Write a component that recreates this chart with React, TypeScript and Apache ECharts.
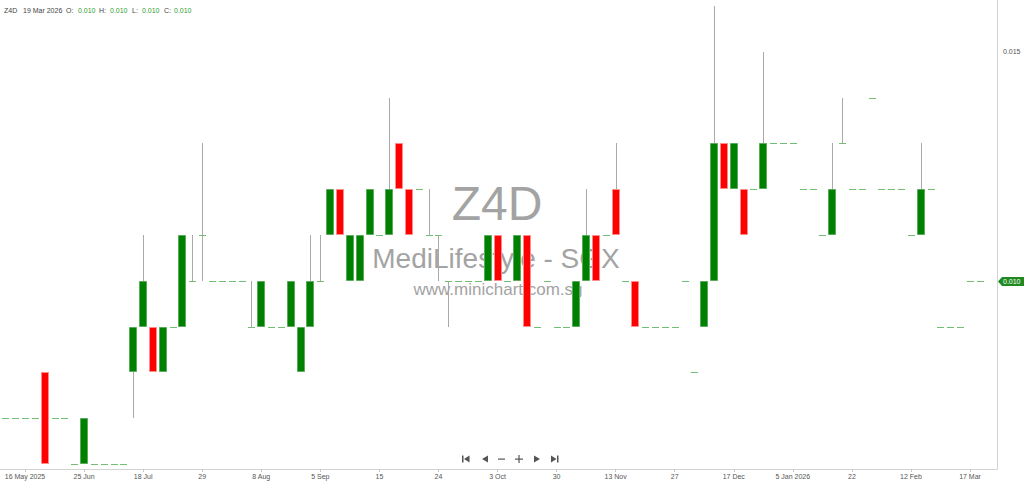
import { useEffect, useRef } from 'react';
import * as echarts from 'echarts';

const symbol = 'Z4D';
const company = 'MediLifestyle - SGX';
const site = 'www.minichart.com.sg';
const lastDate = '19 Mar 2026';

const opens = [
  0.007, 0.007, 0.007, 0.007, 0.008, 0.007, 0.007, 0.006, 0.006, 0.006,
  0.006, 0.006, 0.006, 0.008, 0.009, 0.009, 0.008, 0.009, 0.009, 0.010,
  0.011, 0.010, 0.010, 0.010, 0.010, 0.009, 0.009, 0.009, 0.009, 0.009,
  0.008, 0.009, 0.010, 0.011, 0.012, 0.010, 0.010, 0.011, 0.011, 0.011,
  0.013, 0.012, 0.012, 0.011, 0.011, 0.010, 0.010, 0.010, 0.010, 0.010,
  0.011, 0.010, 0.010, 0.011, 0.009, 0.010, 0.009, 0.009, 0.009, 0.010,
  0.011, 0.011, 0.012, 0.010, 0.010, 0.009, 0.009, 0.009, 0.009, 0.010,
  0.008, 0.009, 0.010, 0.013, 0.012, 0.012, 0.012, 0.012, 0.013, 0.013,
  0.013, 0.012, 0.012, 0.011, 0.011, 0.013, 0.012, 0.012, 0.014, 0.012,
  0.012, 0.012, 0.011, 0.011, 0.012, 0.009, 0.009, 0.009, 0.010, 0.010,
];
const highs = [
  0.007, 0.007, 0.007, 0.007, 0.008, 0.007, 0.007, 0.006, 0.007, 0.006,
  0.006, 0.006, 0.006, 0.009, 0.011, 0.009, 0.009, 0.009, 0.011, 0.011,
  0.013, 0.010, 0.010, 0.010, 0.010, 0.010, 0.010, 0.009, 0.009, 0.010,
  0.009, 0.011, 0.011, 0.012, 0.012, 0.011, 0.011, 0.012, 0.011, 0.014,
  0.013, 0.012, 0.012, 0.012, 0.011, 0.010, 0.010, 0.010, 0.010, 0.011,
  0.011, 0.010, 0.011, 0.011, 0.009, 0.010, 0.009, 0.009, 0.010, 0.012,
  0.011, 0.011, 0.013, 0.010, 0.010, 0.009, 0.009, 0.009, 0.009, 0.010,
  0.008, 0.010, 0.016, 0.013, 0.013, 0.012, 0.012, 0.015, 0.013, 0.013,
  0.013, 0.012, 0.012, 0.011, 0.013, 0.014, 0.012, 0.012, 0.014, 0.012,
  0.012, 0.012, 0.011, 0.013, 0.012, 0.009, 0.009, 0.009, 0.010, 0.010,
];
const lows = [
  0.007, 0.007, 0.007, 0.007, 0.006, 0.007, 0.007, 0.006, 0.006, 0.006,
  0.006, 0.006, 0.006, 0.007, 0.009, 0.008, 0.008, 0.009, 0.009, 0.010,
  0.010, 0.010, 0.010, 0.010, 0.010, 0.009, 0.009, 0.009, 0.009, 0.009,
  0.008, 0.009, 0.010, 0.011, 0.011, 0.010, 0.010, 0.011, 0.011, 0.011,
  0.012, 0.011, 0.012, 0.011, 0.010, 0.009, 0.010, 0.010, 0.010, 0.010,
  0.010, 0.010, 0.010, 0.009, 0.009, 0.010, 0.009, 0.009, 0.009, 0.010,
  0.010, 0.011, 0.011, 0.010, 0.009, 0.009, 0.009, 0.009, 0.009, 0.010,
  0.008, 0.009, 0.010, 0.012, 0.012, 0.011, 0.012, 0.012, 0.013, 0.013,
  0.013, 0.012, 0.012, 0.011, 0.011, 0.013, 0.012, 0.012, 0.014, 0.012,
  0.012, 0.012, 0.011, 0.011, 0.012, 0.009, 0.009, 0.009, 0.010, 0.010,
];
const closes = [
  0.007, 0.007, 0.007, 0.007, 0.006, 0.007, 0.007, 0.006, 0.007, 0.006,
  0.006, 0.006, 0.006, 0.009, 0.010, 0.008, 0.009, 0.009, 0.011, 0.010,
  0.011, 0.010, 0.010, 0.010, 0.010, 0.009, 0.010, 0.009, 0.009, 0.010,
  0.009, 0.010, 0.010, 0.012, 0.011, 0.011, 0.011, 0.012, 0.011, 0.012,
  0.012, 0.011, 0.012, 0.011, 0.011, 0.010, 0.010, 0.010, 0.010, 0.011,
  0.010, 0.010, 0.011, 0.009, 0.009, 0.010, 0.009, 0.009, 0.010, 0.011,
  0.010, 0.011, 0.011, 0.010, 0.009, 0.009, 0.009, 0.009, 0.009, 0.010,
  0.008, 0.010, 0.013, 0.012, 0.013, 0.011, 0.012, 0.013, 0.013, 0.013,
  0.013, 0.012, 0.012, 0.011, 0.012, 0.013, 0.012, 0.012, 0.014, 0.012,
  0.012, 0.012, 0.011, 0.012, 0.012, 0.009, 0.009, 0.009, 0.010, 0.010,
];

const xTickIndex = [2, 8, 14, 20, 26, 32, 38, 44, 50, 56, 62, 68, 74, 80, 86, 92, 98];
const xTickLabels = [
  '16 May 2025', '25 Jun', '18 Jul', '29', '8 Aug', '5 Sep', '15', '24', '3 Oct',
  '30', '13 Nov', '27', '17 Dec', '5 Jan 2026', '22', '12 Feb', '17 Mar',
];
const yLabelValues = [0.015];

const FONT = '"Liberation Sans", Arial, sans-serif';
const UP = '#008000';
const DOWN = '#ff0000';
const UP_EDGE = '#5cab5c';
const DOWN_EDGE = '#ff8a8a';
const WICK = '#a9a9a9';
const FLAT = '#72be72';
const VAL_GREEN = '#2f9b2f';

export default function App() {
  const ref = useRef<HTMLDivElement>(null);

  useEffect(() => {
    const chart = echarts.init(ref.current!, null, { renderer: 'svg' });
    const data = opens.map((o, i) => [i, o, closes[i], lows[i], highs[i]]);
    const last = data.length - 1;

    const renderCandle = (params: any, api: any) => {
      const i = api.value(0);
      const o = api.value(1);
      const c = api.value(2);
      const l = api.value(3);
      const h = api.value(4);
      const slot = api.size([1, 0])[0];
      const pO = api.coord([i, o]);
      const pC = api.coord([i, c]);
      const pL = api.coord([i, l]);
      const pH = api.coord([i, h]);
      const cx = Math.round(pO[0]);
      const yO = Math.round(pO[1]);
      const yC = Math.round(pC[1]);
      const top = Math.min(yO, yC);
      const bot = Math.max(yO, yC);
      const yH = Math.round(pH[1]);
      const yL = Math.round(pL[1]);
      const children: any[] = [];
      if (yH < top) {
        children.push({
          type: 'rect',
          shape: { x: cx, y: yH, width: 1, height: top - yH },
          style: { fill: WICK },
        });
      }
      if (yL > bot) {
        children.push({
          type: 'rect',
          shape: { x: cx, y: bot, width: 1, height: yL - bot },
          style: { fill: WICK },
        });
      }
      if (o === c) {
        const hw = Math.floor(slot * 0.34);
        children.push({
          type: 'rect',
          shape: { x: cx - hw, y: yO, width: hw * 2 + 1, height: 1 },
          style: { fill: FLAT },
        });
      } else {
        const bw = Math.round(slot * 0.8);
        const up = c > o;
        children.push({
          type: 'rect',
          shape: { x: cx - bw / 2 + 0.5, y: top + 0.5, width: bw - 1, height: bot - top - 1 },
          style: { fill: up ? UP : DOWN, stroke: up ? UP_EDGE : DOWN_EDGE, lineWidth: 1 },
        });
      }
      return { type: 'group', children };
    };

    const renderTag = (params: any, api: any) => {
      const v = api.value(1);
      const p = api.coord([api.value(0), v]);
      const x = params.coordSys.x + params.coordSys.width;
      const y = Math.round(p[1]) + 0.5;
      return {
        type: 'group',
        children: [
          {
            type: 'polygon',
            shape: {
              points: [
                [x + 1, y],
                [x + 5, y - 4.5],
                [x + 27, y - 4.5],
                [x + 27, y + 4.5],
                [x + 5, y + 4.5],
              ],
            },
            style: { fill: '#1f8a1f' },
          },
          {
            type: 'text',
            x: x + 6,
            y: y,
            style: {
              text: v.toFixed(3),
              fill: '#ffffff',
              font: `7px ${FONT}`,
              textAlign: 'left',
              textVerticalAlign: 'middle',
            },
          },
        ],
      };
    };

    const headerItems: [string, number, string][] = [
      [symbol, 4, '#444'],
      [lastDate, 23, '#444'],
      ['O:', 66, '#444'],
      [opens[last].toFixed(3), 78, VAL_GREEN],
      ['H:', 99, '#444'],
      [highs[last].toFixed(3), 110, VAL_GREEN],
      ['L:', 132, '#444'],
      [lows[last].toFixed(3), 142, VAL_GREEN],
      ['C:', 164, '#444'],
      [closes[last].toFixed(3), 174, VAL_GREEN],
    ];

    const NAV = '#555';
    const option: any = {
      animation: false,
      grid: { left: 0, right: 27, top: 0, bottom: 15 },
      xAxis: {
        type: 'value',
        min: -0.538,
        max: 100.74,
        splitLine: { show: false },
        axisLine: { show: true, onZero: false, lineStyle: { color: '#d3d3d3', width: 1 } },
        axisTick: {
          show: true,
          customValues: xTickIndex,
          length: 3,
          lineStyle: { color: '#c8c8c8' },
        },
        axisLabel: {
          customValues: xTickIndex,
          formatter: (v: number) => {
            const k = xTickIndex.indexOf(Math.round(v));
            return k >= 0 ? xTickLabels[k] : '';
          },
          fontSize: 7,
          fontFamily: FONT,
          color: '#555',
          margin: 4,
        },
      },
      yAxis: {
        type: 'value',
        position: 'right',
        min: 0.005889,
        max: 0.016129,
        splitLine: { show: false },
        axisLine: { show: true, onZero: false, lineStyle: { color: '#d3d3d3', width: 1 } },
        axisTick: { show: false },
        axisLabel: {
          customValues: yLabelValues,
          formatter: (v: number) => v.toFixed(3),
          fontSize: 7,
          fontFamily: FONT,
          color: '#555',
          margin: 6,
        },
      },
      graphic: [
        {
          type: 'text',
          x: 497,
          y: 203,
          z: 0,
          silent: true,
          style: {
            text: symbol,
            fill: '#a3a3a3',
            font: `48px ${FONT}`,
            textAlign: 'center',
            textVerticalAlign: 'middle',
          },
        },
        {
          type: 'text',
          x: 496,
          y: 258,
          z: 0,
          silent: true,
          style: {
            text: company,
            fill: '#a3a3a3',
            font: `28px ${FONT}`,
            textAlign: 'center',
            textVerticalAlign: 'middle',
          },
        },
        {
          type: 'text',
          x: 498,
          y: 289,
          z: 0,
          silent: true,
          style: {
            text: site,
            fill: '#a3a3a3',
            font: `17px ${FONT}`,
            textAlign: 'center',
            textVerticalAlign: 'middle',
          },
        },
        ...headerItems.map(([t, x, col]) => ({
          type: 'text',
          x,
          y: 10,
          style: {
            text: t,
            fill: col,
            font: `7px ${FONT}`,
            textAlign: 'left',
            textVerticalAlign: 'middle',
          },
        })),
        { type: 'rect', shape: { x: 462, y: 455.5, width: 1.5, height: 7 }, style: { fill: NAV } },
        { type: 'polygon', shape: { points: [[469.5, 455.5], [469.5, 462.5], [464, 459]] }, style: { fill: NAV } },
        { type: 'polygon', shape: { points: [[488, 455.5], [488, 462.5], [482, 459]] }, style: { fill: NAV } },
        { type: 'rect', shape: { x: 498, y: 458.5, width: 7, height: 1.2 }, style: { fill: NAV } },
        { type: 'rect', shape: { x: 515, y: 458.5, width: 8, height: 1.2 }, style: { fill: NAV } },
        { type: 'rect', shape: { x: 518.4, y: 455, width: 1.2, height: 8 }, style: { fill: NAV } },
        { type: 'polygon', shape: { points: [[534, 455.5], [534, 462.5], [540, 459]] }, style: { fill: NAV } },
        { type: 'polygon', shape: { points: [[551, 455.5], [551, 462.5], [556.5, 459]] }, style: { fill: NAV } },
        { type: 'rect', shape: { x: 557, y: 455.5, width: 1.5, height: 7 }, style: { fill: NAV } },
      ],
      series: [
        {
          type: 'custom',
          z: 5,
          renderItem: renderCandle,
          encode: { x: 0, y: [1, 2, 3, 4] },
          data,
        },
        {
          type: 'custom',
          z: 6,
          clip: false,
          renderItem: renderTag,
          encode: { x: 0, y: 1 },
          data: [[last, closes[last]]],
        },
      ],
    };
    chart.setOption(option);
    return () => chart.dispose();
  }, []);

  return (
    <div
      ref={ref}
      style={{ position: 'fixed', left: 0, top: 0, width: 1024, height: 484, background: '#fff' }}
    />
  );
}
